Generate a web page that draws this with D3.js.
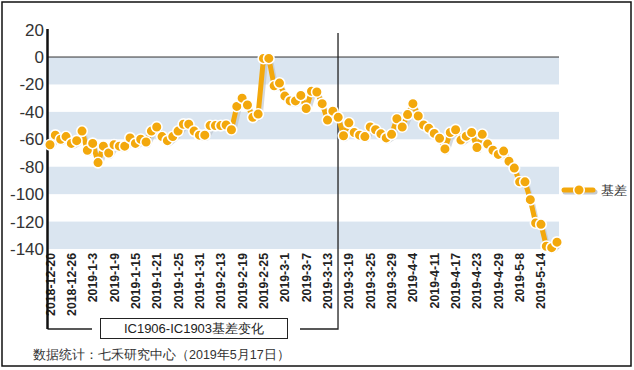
<!DOCTYPE html>
<html>
<head>
<meta charset="utf-8">
<script src="https://cdn.jsdelivr.net/npm/d3@7"></script>
<style>
body { margin: 0; background: #fff; }
svg { font-family: "Liberation Sans", Arial, sans-serif; }
</style>
</head>
<body>
<svg width="634" height="370"></svg>
<script>
// trading days, 2018-12-20 .. 2019-5-17
var dates = ["2018-12-20","2018-12-21","2018-12-24","2018-12-25","2018-12-26","2018-12-27","2018-12-28",
  "2019-1-2","2019-1-3","2019-1-4","2019-1-7","2019-1-8","2019-1-9","2019-1-10","2019-1-11",
  "2019-1-14","2019-1-15","2019-1-16","2019-1-17","2019-1-18","2019-1-21","2019-1-22","2019-1-23",
  "2019-1-24","2019-1-25","2019-1-28","2019-1-29","2019-1-30","2019-1-31","2019-2-1",
  "2019-2-11","2019-2-12","2019-2-13","2019-2-14","2019-2-15","2019-2-18","2019-2-19","2019-2-20",
  "2019-2-21","2019-2-22","2019-2-25","2019-2-26","2019-2-27","2019-2-28","2019-3-1",
  "2019-3-4","2019-3-5","2019-3-6","2019-3-7","2019-3-8","2019-3-11","2019-3-12","2019-3-13",
  "2019-3-14","2019-3-15","2019-3-18","2019-3-19","2019-3-20","2019-3-21","2019-3-22",
  "2019-3-25","2019-3-26","2019-3-27","2019-3-28","2019-3-29","2019-4-1","2019-4-2","2019-4-3",
  "2019-4-4","2019-4-8","2019-4-9","2019-4-10","2019-4-11","2019-4-12","2019-4-15","2019-4-16",
  "2019-4-17","2019-4-18","2019-4-19","2019-4-22","2019-4-23","2019-4-24","2019-4-25","2019-4-26",
  "2019-4-29","2019-4-30","2019-5-6","2019-5-7","2019-5-8","2019-5-9","2019-5-10","2019-5-13",
  "2019-5-14","2019-5-15","2019-5-16","2019-5-17"];

var basis = [-64,-57,-60,-58,-63,-61,-54,-68,-63,-77,-65,-70,-64,-65,-65,-59,-63,-60,-62,-54,
  -51,-58,-61,-58,-54,-49,-49,-54,-57,-57,-50,-50,-50,-49.6,-53,-36,-30,-35,-44,-41.6,
  -1,-1,-21,-19,-28.5,-32,-32,-28,-37.5,-25,-25.5,-34,-46,-39.5,-44,-57.4,-48,-55,-57,-58,
  -51,-53,-56,-59,-56.4,-45,-51,-42,-34,-43,-49.6,-52,-55.7,-59.3,-67,-55,-53,-60.6,-57.7,-55,
  -66,-56.4,-63.5,-68,-71,-68.6,-76,-81,-91,-91,-104,-121,-122,-138,-139,-135];

var yTicks = [20,0,-20,-40,-60,-80,-100,-120,-140];
var bands = [[0,-20],[-40,-60],[-80,-100],[-120,-140]];
var xTickLabels = dates.filter(function(d, i) { return i % 4 === 0 && i < 93; });
var seriesName = "基差";
var boxTitle = "IC1906-IC1903基差变化";
var source = "数据统计：七禾研究中心（2019年5月17日）";
var bracketEnd = "2019-3-13";

var orange = "#f3a80c";
var svg = d3.select("svg");

svg.append("rect")
  .attr("x", 2).attr("y", 2).attr("width", 629).attr("height", 364)
  .attr("fill", "none").attr("stroke", "#111").attr("stroke-width", 1.5);

var x = d3.scalePoint().domain(dates).range([50, 557]);
var y = d3.scaleLinear().domain([20, -140]).range([29.6, 249]);
var left = 47.5, right = 559;

// bands
svg.append("g").selectAll("rect")
  .data(bands)
  .enter().append("rect")
    .attr("x", left).attr("width", right - left)
    .attr("y", function(d) { return y(d[0]); })
    .attr("height", function(d) { return y(d[1]) - y(d[0]); })
    .attr("fill", "#dae5f0");

// zero line
svg.append("line")
  .attr("x1", left).attr("x2", right)
  .attr("y1", y(0)).attr("y2", y(0))
  .attr("stroke", "#333").attr("stroke-width", 1);

// y axis labels
svg.append("g").selectAll("text")
  .data(yTicks)
  .enter().append("text")
    .attr("x", 44).attr("y", function(d) { return y(d) + 6; })
    .attr("text-anchor", "end")
    .attr("font-size", 17)
    .attr("fill", "#333")
    .text(function(d) { return d; });

// x labels
svg.append("g").selectAll("text")
  .data(xTickLabels)
  .enter().append("text")
    .attr("transform", function(d) { return "translate(" + (x(d) + 4.5) + ",253) rotate(-90)"; })
    .attr("text-anchor", "end")
    .attr("font-size", 12.3)
    .attr("font-weight", "bold")
    .attr("fill", "#222")
    .text(function(d) { return d; });

// bracket + box
var bx = x(bracketEnd) + 10.5;
svg.append("path")
  .attr("d", "M" + left + ",329H92M300,329H" + bx + "V33")
  .attr("fill", "none").attr("stroke", "#222").attr("stroke-width", 1.3);
svg.append("line")
  .attr("x1", left).attr("x2", left).attr("y1", 29).attr("y2", 329)
  .attr("stroke", "#111").attr("stroke-width", 2.5);
svg.append("rect")
  .attr("x", 100.5).attr("y", 318.5).attr("width", 187).attr("height", 20)
  .attr("fill", "#fff").attr("stroke", "#222").attr("stroke-width", 1);
svg.append("text")
  .attr("x", 194).attr("y", 333)
  .attr("text-anchor", "middle").attr("font-size", 13).attr("fill", "#222")
  .text(boxTitle);

// series
var line = d3.line()
  .x(function(d, i) { return x(dates[i]); })
  .y(function(d) { return y(d); });

svg.append("path")
  .datum(basis)
  .attr("d", line)
  .attr("transform", "translate(2,3)")
  .attr("fill", "none").attr("stroke", "#b9c0c8").attr("stroke-opacity", 0.6)
  .attr("stroke-width", 5).attr("stroke-linejoin", "round");

svg.append("path")
  .datum(basis)
  .attr("d", line)
  .attr("fill", "none").attr("stroke", orange)
  .attr("stroke-width", 5).attr("stroke-linejoin", "round");

svg.append("g").selectAll("circle")
  .data(basis)
  .enter().append("circle")
    .attr("cx", function(d, i) { return x(dates[i]); })
    .attr("cy", function(d) { return y(d); })
    .attr("r", 5.3)
    .attr("fill", orange)
    .attr("stroke", "#fff").attr("stroke-width", 1.6);

// legend
var lg = svg.append("g").attr("transform", "translate(564,190)");
lg.append("line").attr("x1", 1).attr("x2", 31).attr("y1", 2).attr("y2", 2)
  .attr("stroke", "#c5cad0").attr("stroke-width", 5).attr("stroke-linecap", "round");
lg.append("line").attr("x1", 0).attr("x2", 29).attr("y1", 0).attr("y2", 0)
  .attr("stroke", orange).attr("stroke-width", 5).attr("stroke-linecap", "round");
lg.append("circle").attr("cx", 15).attr("cy", 0).attr("r", 5.3)
  .attr("fill", orange).attr("stroke", "#fff").attr("stroke-width", 1.6);
lg.append("text").attr("x", 37).attr("y", 5)
  .attr("font-size", 12.5).attr("fill", "#333").text(seriesName);

// source
svg.append("text")
  .attr("x", 33).attr("y", 359)
  .attr("font-size", 12.5).attr("fill", "#333")
  .text(source);
</script>
</body>
</html>
